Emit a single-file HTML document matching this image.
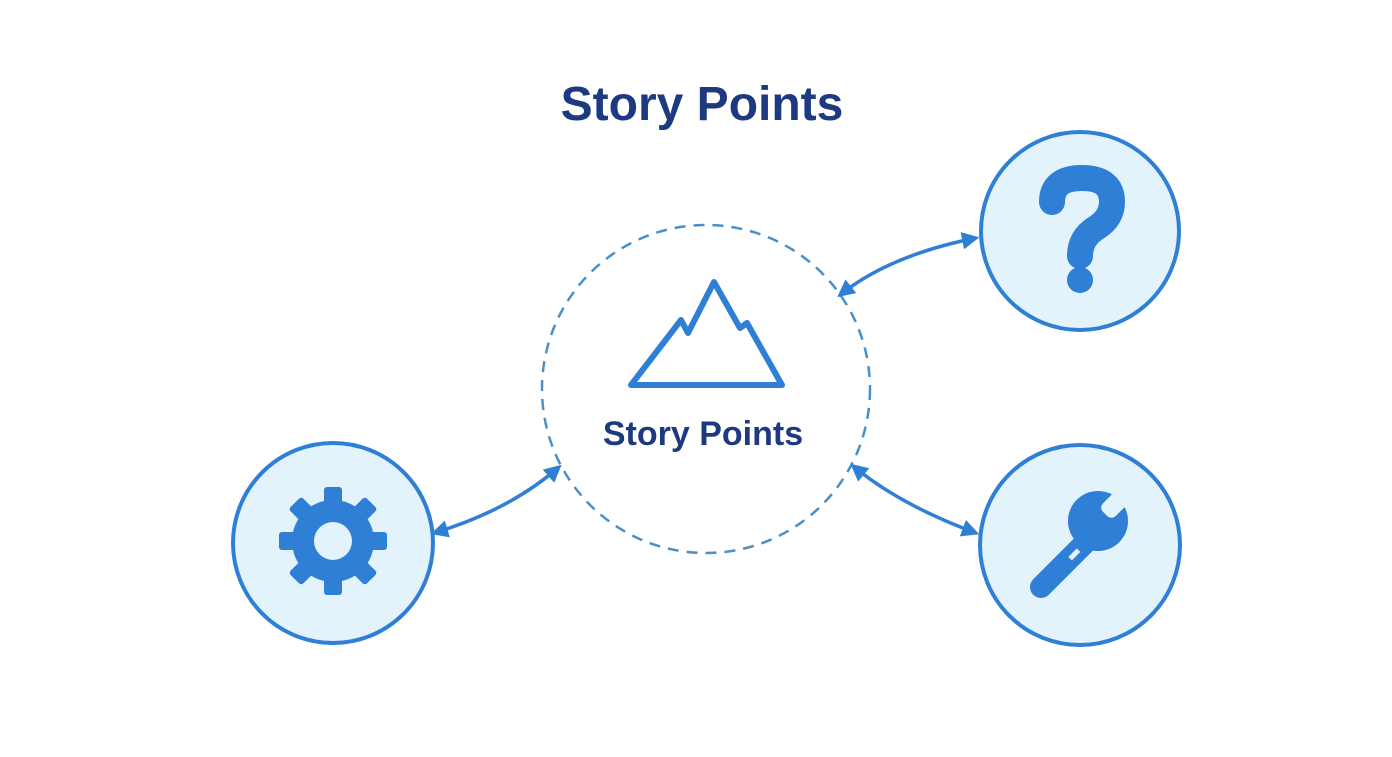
<!DOCTYPE html>
<html><head><style>
html,body{margin:0;padding:0;background:#fff;}
body{width:1392px;height:752px;overflow:hidden;}
</style></head><body>
<svg width="1392" height="752" viewBox="0 0 1392 752" xmlns="http://www.w3.org/2000/svg">
<defs>
<marker id="a" viewBox="0 0 10 10" refX="8" refY="5" markerWidth="5" markerHeight="5" orient="auto-start-reverse">
<path d="M0,0 L10,5 L0,10 z" fill="#2f7fd6"/></marker>
</defs>
<text x="702" y="120" text-anchor="middle" font-family="Liberation Sans, sans-serif" font-weight="bold" font-size="48" fill="#1d3a80">Story Points</text>
<circle cx="706" cy="389" r="164" fill="none" stroke="#4a90c8" stroke-width="2.5" stroke-dasharray="11 8"/>
<path d="M631,385 L681,320 L688,333 L714,282 L740,328 L747,323 L782,385 Z" fill="none" stroke="#2f7fd6" stroke-width="6" stroke-linejoin="round"/>
<text x="703" y="445" text-anchor="middle" font-family="Liberation Sans, sans-serif" font-weight="bold" font-size="34" fill="#1d3a80">Story Points</text>
<g fill="#e3f3fb" stroke="#2f7fd6" stroke-width="4">
<circle cx="1080" cy="231" r="99"/>
<circle cx="1080" cy="545" r="100"/>
<circle cx="333" cy="543" r="100"/>
</g>
<g fill="none" stroke="#2f7fd6" stroke-width="3.5" marker-start="url(#a)" marker-end="url(#a)">
<path d="M840,295 Q890,255 976,238"/>
<path d="M853,466 Q900,505 976,533"/>
<path d="M559,467 Q510,510 434,533"/>
</g>
<!-- question mark -->
<g fill="none" stroke="#2f7fd6" stroke-linecap="round">
<path d="M1052,202 Q1052,178 1082,178 Q1112,178 1112,202 Q1112,218 1096,228 Q1080,238 1080,256" stroke-width="26"/>
</g>
<circle cx="1080" cy="280" r="13" fill="#2f7fd6"/>
<!-- gear -->
<g transform="translate(333,541)" fill="#2f7fd6">
<g id="t"><rect x="-9" y="-54" width="18" height="22" rx="3"/></g>
<use href="#t" transform="rotate(45)"/><use href="#t" transform="rotate(90)"/><use href="#t" transform="rotate(135)"/>
<use href="#t" transform="rotate(180)"/><use href="#t" transform="rotate(225)"/><use href="#t" transform="rotate(270)"/><use href="#t" transform="rotate(315)"/>
<circle r="41"/>
<circle r="19" fill="#e3f3fb"/>
</g>
<!-- wrench -->
<line x1="1041" y1="587" x2="1088" y2="540" stroke="#2f7fd6" stroke-width="22" stroke-linecap="round"/>
<circle cx="1098" cy="521" r="30" fill="#2f7fd6"/>
<rect x="-9" y="-46" width="18" height="36" rx="6" fill="#e3f3fb" transform="translate(1098,521) rotate(45)"/>
<rect x="1068" y="552" width="12" height="5" fill="#e3f3fb" transform="rotate(-45 1074 554)"/>
</svg>
</body></html>
